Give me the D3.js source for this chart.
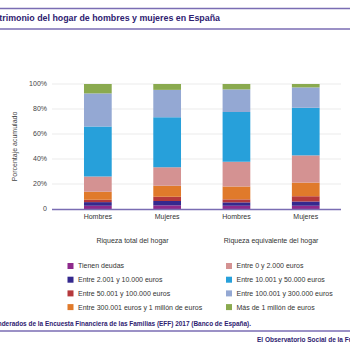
<!DOCTYPE html>
<html>
<head>
<meta charset="utf-8">
<script src="https://cdn.jsdelivr.net/npm/d3@7"></script>
<style>
  body { margin: 0; background: #fff; }
  svg { display: block; font-family: "Liberation Sans", Arial, sans-serif; }
</style>
</head>
<body>
<div id="chart"></div>
<script>
// bars (x categories) and the group they belong to
const bars = ["h1", "m1", "h2", "m2"];
const barLabels = ["Hombres", "Mujeres", "Hombres", "Mujeres"];
const groups = ["Riqueza total del hogar", "Riqueza equivalente del hogar"];

// series in stacking order (bottom -> top)
const seriesNames = [
    "Tienen deudas",
    "Entre 2.001 y 10.000 euros",
    "Entre 50.001 y 100.000 euros",
    "Entre 300.001 euros y 1 millón de euros",
    "Entre 0 y 2.000 euros",
    "Entre 10.001 y 50.000 euros",
    "Entre 100.001 y 300.000 euros",
    "Más de 1 millón de euros"
];
const seriesColors = ["#8e2a8c", "#34288e", "#b5393c", "#e07a2b", "#d49292", "#27a0da", "#94a8d3", "#8aaa4f"];

// % of households, one array per bar, in series order
const hombresTotal = [2.6, 2.9, 1.9, 6.4, 12.2, 40.0, 26.5, 7.5];
const mujeresTotal = [2.9, 3.5, 3.4, 8.8, 14.8, 40.0, 21.9, 4.7];
const hombresEquiv = [2.6, 2.7, 2.4, 10.3, 19.8, 39.8, 18.1, 4.3];
const mujeresEquiv = [2.6, 3.4, 4.2, 10.9, 21.8, 38.1, 16.3, 2.7];

const yTicks = [0, 20, 40, 60, 80, 100];

const width = 350, height = 350;
const purple = "#7a6db3";
const darkPurple = "#2e2170";

// build rows for d3.stack
const values = [hombresTotal, mujeresTotal, hombresEquiv, mujeresEquiv];
const rows = bars.map((b, i) => {
    const r = { bar: b };
    seriesNames.forEach((s, j) => r[s] = values[i][j]);
    return r;
});
const stacked = d3.stack().keys(seriesNames)(rows);

const svg = d3.select("#chart").append("svg")
    .attr("width", width)
    .attr("height", height);

// header lines + title (cut at the left edge, like the source)
svg.append("line").attr("x1", 0).attr("x2", width).attr("y1", 8.5).attr("y2", 8.5)
    .attr("stroke", purple).attr("stroke-width", 1.5);
svg.append("line").attr("x1", 0).attr("x2", width).attr("y1", 29).attr("y2", 29)
    .attr("stroke", purple).attr("stroke-width", 1.5);
svg.append("text")
    .attr("x", 220).attr("y", 21)
    .attr("text-anchor", "end")
    .attr("fill", darkPurple)
    .style("font-size", "8.85px")
    .style("font-weight", "bold")
    .text("Patrimonio del hogar de hombres y mujeres en España");

// scales
const x = d3.scaleBand().domain(bars).range([63.2, 340.4]).paddingInner(0.6).paddingOuter(0.3);
const y = d3.scaleLinear().domain([0, 100]).range([209, 84]);
const color = d3.scaleOrdinal().domain(seriesNames).range(seriesColors);

// gridlines
svg.append("g")
    .selectAll("line")
    .data(yTicks.slice(1))
    .enter().append("line")
    .attr("x1", 52).attr("x2", 341)
    .attr("y1", d => y(d)).attr("y2", d => y(d))
    .attr("stroke", "#e6e6e6")
    .attr("stroke-width", 0.8);

// y axis tick labels
svg.append("g")
    .selectAll("text")
    .data(yTicks)
    .enter().append("text")
    .attr("x", 47)
    .attr("y", d => y(d))
    .attr("dy", "0.35em")
    .attr("text-anchor", "end")
    .attr("fill", "#444")
    .style("font-size", "7px")
    .text(d => d === 0 ? "0" : d + "%");

svg.append("text")
    .attr("transform", `translate(17,${(y(0) + y(100)) / 2}) rotate(-90)`)
    .attr("text-anchor", "middle")
    .attr("fill", "#444")
    .style("font-size", "7px")
    .text("Porcentaje acumulado");

// stacked bars
svg.append("g")
    .selectAll("g")
    .data(stacked)
    .enter().append("g")
    .attr("fill", d => color(d.key))
    .selectAll("rect")
    .data(d => d)
    .enter().append("rect")
    .attr("x", d => x(d.data.bar))
    .attr("width", x.bandwidth())
    .attr("y", d => y(d[1]))
    .attr("height", d => y(d[0]) - y(d[1]));

// x axis line
svg.append("line")
    .attr("x1", 52).attr("x2", 341)
    .attr("y1", 209.5).attr("y2", 209.5)
    .attr("stroke", purple).attr("stroke-width", 1.5);

// bar labels
svg.append("g")
    .selectAll("text")
    .data(bars)
    .enter().append("text")
    .attr("x", d => x(d) + x.bandwidth() / 2)
    .attr("y", 219)
    .attr("text-anchor", "middle")
    .attr("fill", "#333")
    .style("font-size", "7px")
    .text((d, i) => barLabels[i]);

// group labels
svg.append("g")
    .selectAll("text")
    .data(groups)
    .enter().append("text")
    .attr("x", (d, i) => (x(bars[i * 2]) + x(bars[i * 2 + 1]) + x.bandwidth()) / 2)
    .attr("y", 242.5)
    .attr("text-anchor", "middle")
    .attr("fill", "#333")
    .style("font-size", "7px")
    .text(d => d);

// legend, two columns filled top to bottom
const legend = svg.append("g")
    .selectAll("g")
    .data(seriesNames)
    .enter().append("g")
    .attr("transform", (d, i) => `translate(${i < 4 ? 67.5 : 226},${266 + (i % 4) * 13.7})`);
legend.append("rect")
    .attr("x", 0).attr("y", -3)
    .attr("width", 6).attr("height", 6)
    .attr("fill", d => color(d));
legend.append("text")
    .attr("x", 10.5).attr("y", 0)
    .attr("dy", "0.35em")
    .attr("fill", "#333")
    .style("font-size", "7px")
    .text(d => d);

// footer
svg.append("text")
    .attr("x", 251).attr("y", 326)
    .attr("text-anchor", "end")
    .attr("fill", darkPurple)
    .style("font-size", "6.45px")
    .style("font-weight", "bold")
    .text("Fuente: datos ponderados de la Encuesta Financiera de las Familias (EFF) 2017 (Banco de España).");
svg.append("line").attr("x1", 0).attr("x2", width).attr("y1", 331).attr("y2", 331)
    .attr("stroke", purple).attr("stroke-width", 1.5);
svg.append("text")
    .attr("x", 257).attr("y", 342)
    .attr("fill", darkPurple)
    .style("font-size", "6.5px")
    .style("font-weight", "bold")
    .text("El Observatorio Social de la Fundación \"la Caixa\"");
</script>
</body>
</html>
